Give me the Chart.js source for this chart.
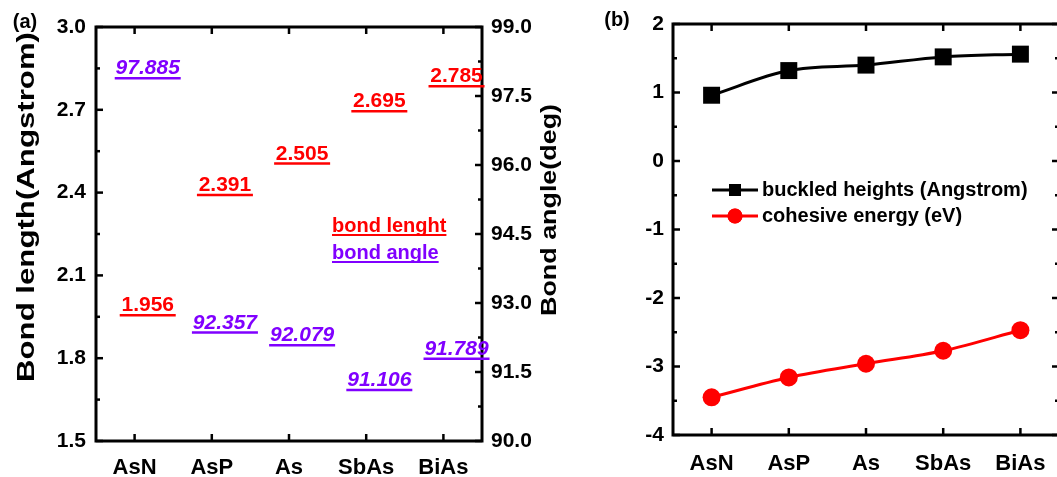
<!DOCTYPE html>
<html>
<head>
<meta charset="utf-8">
<script src="https://cdn.jsdelivr.net/npm/chart.js@4.4.1/dist/chart.umd.min.js"></script>
<style>
	html, body { margin: 0; padding: 0; background: #fff; overflow: hidden; }
	#wrapA { position: absolute; left: 0; top: 0; width: 580px; height: 477px; }
	#wrapB { position: absolute; left: 580px; top: 0; width: 490px; height: 477px; }
</style>
</head>
<body>
<div id="wrapA"><canvas id="chartA"></canvas></div>
<div id="wrapB"><canvas id="chartB"></canvas></div>
<script>
(() => {
	"use strict";

	// Data
	const compounds = ["AsN", "AsP", "As", "SbAs", "BiAs"];
	const bondLength = [1.956, 2.391, 2.505, 2.695, 2.785];
	const bondAngle = [97.885, 92.357, 92.079, 91.106, 91.789];
	const lengthTicks = [1.5, 1.8, 2.1, 2.4, 2.7, 3.0];
	const angleTicks = [90, 91.5, 93, 94.5, 96, 97.5, 99];
	const buckledHeight = [0.96, 1.32, 1.40, 1.52, 1.56];
	const cohesiveEnergy = [-3.45, -3.16, -2.96, -2.77, -2.47];
	const energyTicks = [-4, -3, -2, -1, 0, 1, 2];

	const FONT = '"Liberation Sans", Arial, sans-serif';
	const RED = "#ff0000";
	const VIOLET = "#8000ff";

	Chart.defaults.color = "#000";
	Chart.defaults.font.family = FONT;
	Chart.defaults.font.weight = "bold";

	const fixedTicks = (values) => (scale) => {
		scale.ticks = values.map((v) => ({ value: v }));
	};

	// Box frame with inward major/minor ticks on all four sides
	const frame = {
		id: "frame",
		beforeDatasetsDraw(chart, args, opts) {
			const { ctx, chartArea: a, scales } = chart;
			const line = (x1, y1, x2, y2) => {
				ctx.beginPath();
				ctx.moveTo(x1, y1);
				ctx.lineTo(x2, y2);
				ctx.stroke();
			};
			ctx.save();
			ctx.strokeStyle = "#000";
			ctx.lineWidth = 2.5;
			const xs = scales.x;
			xs.ticks.forEach((t, i) => {
				const px = xs.getPixelForTick(i);
				line(px, a.bottom, px, a.bottom - 7);
				line(px, a.top, px, a.top + 7);
			});
			const sideTicks = (scale, x, dir) => {
				const n = scale.ticks.length;
				for (let i = 0; i < n; i++) {
					const py = scale.getPixelForTick(i);
					line(x, py, x + dir * 7, py);
					if (i < n - 1) {
						const pm = (py + scale.getPixelForTick(i + 1)) / 2;
						line(x, pm, x + dir * 4, pm);
					}
				}
			};
			sideTicks(scales[opts.left], a.left, 1);
			sideTicks(scales[opts.right], a.right, -1);
			ctx.lineWidth = 3;
			ctx.strokeRect(a.left, a.top, a.right - a.left, a.bottom - a.top);
			ctx.restore();
		},
	};

	// Panel tag and rotated axis titles
	const titles = {
		id: "titles",
		afterDraw(chart, args, opts) {
			const { ctx, chartArea: a } = chart;
			ctx.save();
			ctx.fillStyle = "#000";
			ctx.font = "bold 20px " + FONT;
			ctx.textAlign = "center";
			ctx.textBaseline = "middle";
			ctx.fillText(opts.tag, opts.tagX, opts.tagY);
			(opts.axes || []).forEach((t) => {
				ctx.save();
				ctx.translate(t.side === "left" ? a.left + t.dx : a.right + t.dx, a.top + t.dy);
				ctx.rotate(-Math.PI / 2);
				ctx.font = "bold " + t.size + "px " + FONT;
				const w = ctx.measureText(t.text).width;
				ctx.scale(t.length / w, 1);
				ctx.fillText(t.text, 0, 0);
				ctx.restore();
			});
			ctx.restore();
		},
	};

	// Underlined value text sitting on each segment of panel (a)
	const valueLabels = {
		id: "valueLabels",
		afterDatasetsDraw(chart, args, opts) {
			const { ctx, chartArea: a } = chart;
			ctx.save();
			ctx.textBaseline = "alphabetic";
			chart.data.datasets.forEach((ds, di) => {
				const meta = chart.getDatasetMeta(di);
				ctx.fillStyle = ds.borderColor;
				ctx.font = opts.fonts[di];
				ctx.textAlign = "center";
				meta.data.forEach((pt, i) => {
					ctx.fillText(ds.data[i].y.toFixed(3), pt.x, pt.y - 4);
				});
				// key entry
				ctx.font = "bold 20px " + FONT;
				ctx.textAlign = "left";
				const kx = a.left + 236;
				const ky = a.top + 205 + di * 27;
				ctx.fillText(ds.label, kx, ky);
				const w = ctx.measureText(ds.label).width;
				ctx.strokeStyle = ds.borderColor;
				ctx.lineWidth = 2;
				ctx.beginPath();
				ctx.moveTo(kx, ky + 3);
				ctx.lineTo(kx + w, ky + 3);
				ctx.stroke();
			});
			ctx.restore();
		},
	};

	// Line + marker key inside panel (b)
	const lineKey = {
		id: "lineKey",
		afterDatasetsDraw(chart) {
			const { ctx, chartArea: a } = chart;
			ctx.save();
			chart.data.datasets.forEach((ds, di) => {
				const y = a.top + 166 + di * 26;
				const x0 = a.left + 39;
				const x1 = a.left + 85;
				ctx.strokeStyle = ds.borderColor;
				ctx.lineWidth = 3;
				ctx.beginPath();
				ctx.moveTo(x0, y);
				ctx.lineTo(x1, y);
				ctx.stroke();
				ctx.fillStyle = ds.pointBackgroundColor;
				Chart.helpers.drawPoint(ctx, {
					pointStyle: ds.pointStyle,
					radius: ds.pointStyle === "rect" ? 8.5 : 7.5,
					borderWidth: 0,
					rotation: 0,
				}, (x0 + x1) / 2, y);
				ctx.fill();
				ctx.fillStyle = "#000";
				ctx.font = "bold 20px " + FONT;
				ctx.textAlign = "left";
				ctx.textBaseline = "middle";
				ctx.fillText(ds.label, a.left + 89, y);
			});
			ctx.restore();
		},
	};

	const noGrid = { display: false, drawTicks: false };
	const noBorder = { display: false };

	// (a) bond length and bond angle
	// eslint-disable-next-line no-unused-vars
	const chartA = new Chart(document.getElementById("chartA"), {
		type: "scatter",
		data: {
			datasets: [
				{
					label: "bond lenght",
					data: bondLength.map((v, i) => ({ x: i + 0.17, y: v })),
					yAxisID: "y",
					borderColor: RED,
					pointBorderColor: RED,
					pointStyle: "line",
					pointRadius: 28,
					pointHoverRadius: 28,
					pointBorderWidth: 2.5,
					clip: false,
				},
				{
					label: "bond angle",
					data: bondAngle.map((v, i) => ({ x: i + 0.17, y: v })),
					yAxisID: "y1",
					borderColor: VIOLET,
					pointBorderColor: VIOLET,
					pointStyle: "line",
					pointRadius: 33,
					pointHoverRadius: 33,
					pointBorderWidth: 2.5,
					clip: false,
				},
			],
		},
		options: {
			responsive: true,
			maintainAspectRatio: false,
			animation: false,
			events: [],
			layout: { autoPadding: false, padding: { top: 27, left: 0, right: 0, bottom: 0 } },
			plugins: {
				legend: { display: false },
				tooltip: { enabled: false },
				frame: { left: "y", right: "y1" },
				valueLabels: {
					fonts: ["bold 21px " + FONT, "italic bold 21px " + FONT],
				},
				titles: {
					tag: "(a)",
					tagX: 25,
					tagY: 22,
					axes: [
						{ text: "Bond length(Angstrom)", side: "left", dx: -69, dy: 180, length: 350, size: 24 },
						{ text: "Bond angle(deg)", side: "right", dx: 68, dy: 183, length: 212, size: 22 },
					],
				},
			},
			scales: {
				x: {
					type: "linear",
					position: "bottom",
					min: -0.5,
					max: compounds.length - 0.5,
					afterBuildTicks: fixedTicks(compounds.map((c, i) => i)),
					afterFit: (s) => { s.height = 36; },
					grid: noGrid,
					border: noBorder,
					ticks: {
						autoSkip: false,
						maxRotation: 0,
						padding: 14,
						font: { size: 22, weight: "bold" },
						callback: (v) => compounds[v],
					},
				},
				y: {
					position: "left",
					min: lengthTicks[0],
					max: lengthTicks[lengthTicks.length - 1],
					afterBuildTicks: fixedTicks(lengthTicks),
					afterFit: (s) => { s.width = 96; },
					grid: noGrid,
					border: noBorder,
					ticks: {
						padding: 10,
						font: { size: 21, weight: "bold" },
						callback: (v) => v.toFixed(1),
					},
				},
				y1: {
					position: "right",
					min: angleTicks[0],
					max: angleTicks[angleTicks.length - 1],
					afterBuildTicks: fixedTicks(angleTicks),
					afterFit: (s) => { s.width = 98; },
					grid: noGrid,
					border: noBorder,
					ticks: {
						padding: 9,
						font: { size: 21, weight: "bold" },
						callback: (v) => v.toFixed(1),
					},
				},
			},
		},
		plugins: [frame, valueLabels, titles],
	});

	// (b) buckled heights and cohesive energy
	// eslint-disable-next-line no-unused-vars
	const chartB = new Chart(document.getElementById("chartB"), {
		type: "line",
		data: {
			labels: compounds,
			datasets: [
				{
					label: "buckled heights (Angstrom)",
					data: buckledHeight,
					borderColor: "#000",
					backgroundColor: "#000",
					borderWidth: 3,
					cubicInterpolationMode: "monotone",
					pointStyle: "rect",
					pointRadius: 12,
					pointHoverRadius: 12,
					pointBorderWidth: 0,
					pointBackgroundColor: "#000",
				},
				{
					label: "cohesive energy (eV)",
					data: cohesiveEnergy,
					borderColor: RED,
					backgroundColor: RED,
					borderWidth: 3,
					cubicInterpolationMode: "monotone",
					pointStyle: "circle",
					pointRadius: 9,
					pointHoverRadius: 9,
					pointBorderWidth: 0,
					pointBackgroundColor: RED,
				},
			],
		},
		options: {
			responsive: true,
			maintainAspectRatio: false,
			animation: false,
			events: [],
			layout: { autoPadding: false, padding: { top: 24, left: 0, right: 11, bottom: 0 } },
			plugins: {
				legend: { display: false },
				tooltip: { enabled: false },
				frame: { left: "y", right: "y" },
				titles: { tag: "(b)", tagX: 37, tagY: 20 },
			},
			scales: {
				x: {
					type: "category",
					offset: true,
					afterFit: (s) => { s.height = 42; },
					grid: noGrid,
					border: noBorder,
					ticks: {
						autoSkip: false,
						maxRotation: 0,
						padding: 16,
						font: { size: 22, weight: "bold" },
					},
				},
				y: {
					min: energyTicks[0],
					max: energyTicks[energyTicks.length - 1],
					afterBuildTicks: fixedTicks(energyTicks),
					afterFit: (s) => { s.width = 93; },
					grid: noGrid,
					border: noBorder,
					ticks: {
						padding: 9,
						font: { size: 21, weight: "bold" },
					},
				},
			},
		},
		plugins: [frame, lineKey, titles],
	});
})();
</script>
</body>
</html>
